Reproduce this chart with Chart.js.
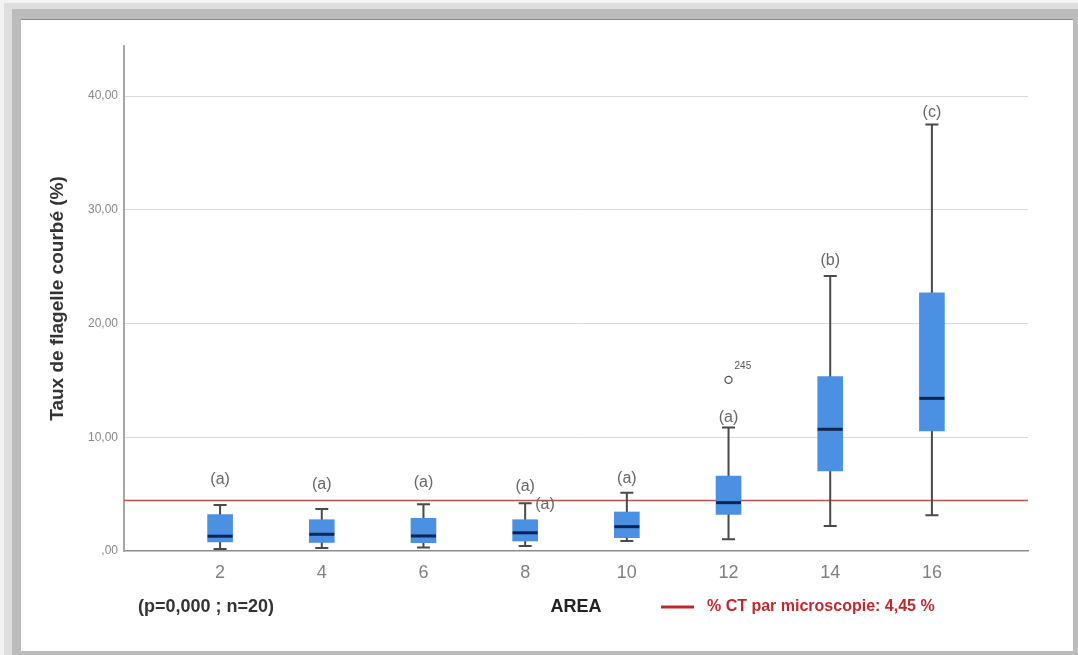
<!DOCTYPE html>
<html>
<head>
<meta charset="utf-8">
<title>Taux de flagelle courbé par AREA</title>
<script src="https://cdn.jsdelivr.net/npm/chart.js@4.4.1/dist/chart.umd.min.js"></script>
<style>
  html, body { margin: 0; padding: 0; }
  body { width: 1078px; height: 655px; position: relative; overflow: hidden; background: #f3f3f3; }
  .band1 { position: absolute; left: 4px; top: 3px; right: 0; bottom: 0; background: #dedede; }
  .band2 { position: absolute; left: 12px; top: 9px; right: 0; bottom: 0; background: #bcbcbc; }
  .panel { position: absolute; left: 21px; top: 19px; width: 1052px; height: 632px; background: #fff;
           border-top: 1px solid #8a8a8a; box-sizing: border-box; }
  .panel canvas { position: absolute; left: 0; top: 0; }
</style>
</head>
<body>
<div class="band1"></div>
<div class="band2"></div>
<div class="panel"><canvas id="chart" width="1052" height="632"></canvas></div>
<script>
// AREA groups and the five-number summary of each box (taux de flagelle courbé, %)
const AREAS        = [2, 4, 6, 8, 10, 12, 14, 16];
const WHISKER_LOW  = [0.18, 0.26, 0.30, 0.45, 0.88, 1.03, 2.20, 3.14];
const Q1           = [0.80, 0.75, 0.73, 0.88, 1.17, 3.22, 7.03, 10.55];
const MEDIAN       = [1.30, 1.47, 1.32, 1.60, 2.14, 4.25, 10.70, 13.42];
const Q3           = [3.20, 2.75, 2.87, 2.75, 3.43, 6.59, 15.33, 22.70];
const WHISKER_HIGH = [4.05, 3.70, 4.10, 4.20, 5.13, 10.85, 24.18, 37.50];

// Outlying case
const OUTLIER_AREA  = [12];
const OUTLIER_VALUE = [15.05];
const OUTLIER_ID    = ['245'];

// Letters of the multiple-comparison groups
const GROUP_LETTERS = ['(a)', '(a)', '(a)', '(a)', '(a)', '(a)', '(b)', '(c)'];

// Reference level measured by microscopy
const REF_VALUE = 4.45;
const REF_LABEL = '% CT par microscopie: 4,45 %';
const STATS_NOTE = '(p=0,000 ; n=20)';

// Axis ticks
const Y_TICKS = [0, 10, 20, 30, 40];

// Drawing settings (pixels)
const LETTER_RISE = [25, 24, 22, 17, 14, 10, 15, 12];
const BOX_WIDTH = 25;
const CAP_WIDTH = 13;
const FONT = "'Liberation Sans', Arial, sans-serif";

const fmtComma = v => v === 0 ? ',00' : v.toFixed(2).replace('.', ',');

const boxPlugin = {
  id: 'boxParts',
  beforeDatasetsDraw(chart) {
    const { ctx, chartArea, scales: { x, y } } = chart;
    // reference line
    const ry = y.getPixelForValue(REF_VALUE);
    ctx.save();
    ctx.strokeStyle = '#c0504d';
    ctx.lineWidth = 1.5;
    ctx.beginPath();
    ctx.moveTo(chartArea.left, ry);
    ctx.lineTo(chartArea.right, ry);
    ctx.stroke();
    // whiskers and caps
    ctx.strokeStyle = '#4a4a4a';
    ctx.lineWidth = 2;
    AREAS.forEach((a, i) => {
      const cx = x.getPixelForValue(a);
      const lo = y.getPixelForValue(WHISKER_LOW[i]);
      const hi = y.getPixelForValue(WHISKER_HIGH[i]);
      ctx.beginPath();
      ctx.moveTo(cx, lo); ctx.lineTo(cx, hi);
      ctx.moveTo(cx - CAP_WIDTH / 2, lo); ctx.lineTo(cx + CAP_WIDTH / 2, lo);
      ctx.moveTo(cx - CAP_WIDTH / 2, hi); ctx.lineTo(cx + CAP_WIDTH / 2, hi);
      ctx.stroke();
    });
    ctx.restore();
  },
  afterDatasetsDraw(chart) {
    const { ctx, scales: { x, y } } = chart;
    ctx.save();
    // medians
    ctx.strokeStyle = '#0c2550';
    ctx.lineWidth = 3;
    AREAS.forEach((a, i) => {
      const cx = x.getPixelForValue(a);
      const my = y.getPixelForValue(MEDIAN[i]);
      ctx.beginPath();
      ctx.moveTo(cx - BOX_WIDTH / 2, my);
      ctx.lineTo(cx + BOX_WIDTH / 2, my);
      ctx.stroke();
    });
    // group letters
    ctx.fillStyle = '#666';
    ctx.font = '16px ' + FONT;
    ctx.textAlign = 'center';
    ctx.textBaseline = 'middle';
    AREAS.forEach((a, i) => {
      const cx = x.getPixelForValue(a);
      const hy = y.getPixelForValue(WHISKER_HIGH[i]);
      ctx.fillText(GROUP_LETTERS[i], cx, hy - LETTER_RISE[i]);
    });
    // repeated letter beside the cap of AREA 8
    const i8 = AREAS.indexOf(8);
    ctx.textAlign = 'left';
    ctx.fillText(GROUP_LETTERS[i8], x.getPixelForValue(8) + 10, y.getPixelForValue(WHISKER_HIGH[i8]) + 1);
    // outlier case numbers
    ctx.fillStyle = '#555';
    ctx.font = '10px ' + FONT;
    OUTLIER_AREA.forEach((a, k) => {
      ctx.fillText(OUTLIER_ID[k], x.getPixelForValue(a) + 6, y.getPixelForValue(OUTLIER_VALUE[k]) - 14);
    });
    ctx.restore();
  },
  afterDraw(chart) {
    const { ctx } = chart;
    ctx.save();
    ctx.textBaseline = 'middle';
    ctx.fillStyle = '#333';
    ctx.font = 'bold 18px ' + FONT;
    ctx.textAlign = 'left';
    ctx.fillText(STATS_NOTE, 117, 587);
    // legend for the reference line
    ctx.strokeStyle = '#c0282d';
    ctx.lineWidth = 3;
    ctx.beginPath();
    ctx.moveTo(640, 587);
    ctx.lineTo(673, 587);
    ctx.stroke();
    ctx.fillStyle = '#c0282d';
    ctx.font = 'bold 16px ' + FONT;
    ctx.fillText(REF_LABEL, 686, 587);
    ctx.restore();
  }
};

new Chart(document.getElementById('chart'), {
  type: 'bar',
  data: {
    datasets: [
      {
        type: 'bar',
        data: AREAS.map((a, i) => ({ x: a, y: [Q1[i], Q3[i]] })),
        backgroundColor: '#4b90e2',
        borderWidth: 0,
        barThickness: BOX_WIDTH,
        order: 2
      },
      {
        type: 'scatter',
        data: OUTLIER_AREA.map((a, k) => ({ x: a, y: OUTLIER_VALUE[k] })),
        pointStyle: 'circle',
        pointRadius: 3.5,
        pointBorderWidth: 1.3,
        pointBorderColor: '#555',
        pointBackgroundColor: '#fff',
        order: 1
      }
    ]
  },
  options: {
    responsive: false,
    devicePixelRatio: 1,
    animation: false,
    events: [],
    layout: { padding: { left: 0, right: 45, top: 26, bottom: 0 } },
    plugins: { legend: { display: false }, tooltip: { enabled: false } },
    scales: {
      x: {
        type: 'linear',
        offset: false,
        min: 0.11,
        max: 17.89,
        afterBuildTicks: s => { s.ticks = AREAS.map(v => ({ value: v })); },
        afterFit: s => { s.height = 101; },
        grid: { display: false, drawTicks: false, offset: false },
        border: { display: true, color: '#8c8c8c', width: 1.5 },
        ticks: {
          autoSkip: false,
          maxRotation: 0,
          padding: 11,
          color: '#808080',
          font: { family: FONT, size: 18 },
          callback: v => String(v)
        },
        title: {
          display: true,
          text: 'AREA',
          color: '#222',
          font: { family: FONT, size: 18, weight: 'bold' },
          padding: { top: 0, bottom: 34 }
        }
      },
      y: {
        type: 'linear',
        min: 0,
        max: 44.4,
        afterBuildTicks: s => { s.ticks = Y_TICKS.map(v => ({ value: v })); },
        afterFit: s => { s.width = 103; },
        grid: {
          drawTicks: false,
          color: ctx => ctx.tick && ctx.tick.value === 0 ? 'rgba(0,0,0,0)' : '#d9d9d9',
          lineWidth: 1
        },
        border: { display: true, color: '#a6a6a6', width: 2 },
        ticks: {
          padding: 6,
          color: '#888',
          font: { family: FONT, size: 12 },
          callback: v => fmtComma(v)
        },
        title: {
          display: true,
          text: 'Taux de flagelle courbé (%)',
          color: '#333',
          font: { family: FONT, size: 19, weight: 'bold' },
          padding: { top: 25, bottom: 0 }
        }
      }
    }
  },
  plugins: [boxPlugin]
});
</script>
</body>
</html>
